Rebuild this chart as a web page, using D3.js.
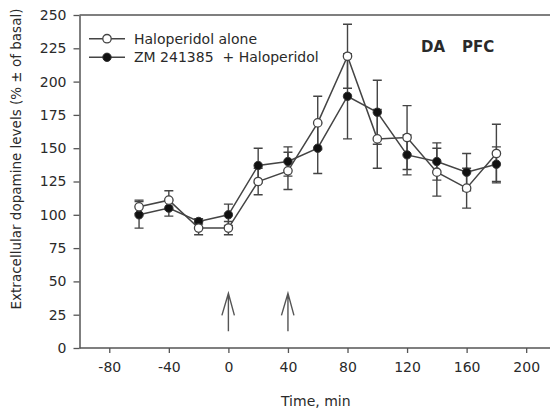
<!DOCTYPE html>
<html>
<head>
<meta charset="utf-8">
<script src="https://cdn.jsdelivr.net/npm/d3@7"></script>
<style>
  body { margin: 0; background: #fff; }
  text { font-family: "DejaVu Sans", Verdana, sans-serif; fill: #2a2a2a; }
</style>
</head>
<body>
<div id="chart"></div>
<script>
// data
var times = [-60, -40, -20, 0, 20, 40, 60, 80, 100, 120, 140, 160, 180];
var haloMean = [106, 111, 90, 90, 125, 133, 169, 219, 157, 158, 132, 120, 146];
var haloErr  = [5, 7, 5, 5, 10, 14, 20, 24, 22, 24, 18, 15, 22];
var zmMean   = [100, 105, 95, 100, 137, 140, 150, 189, 177, 145, 140, 132, 138];
var zmErr    = [10, 6, 2, 8, 13, 11, 19, 32, 24, 15, 14, 14, 13];
var xTicks = [-80, -40, 0, 40, 80, 120, 160, 200];
var yTicks = [0, 25, 50, 75, 100, 125, 150, 175, 200, 225, 250];
var arrowTimes = [0, 40];
var arrowFrom = 12.5, arrowTo = 41;
var seriesNames = ["Haloperidol alone", "ZM 241385  + Haloperidol"];

var W = 550, H = 412;
var svg = d3.select("#chart").append("svg")
  .attr("width", W).attr("height", H);

var x = d3.scaleLinear().domain([-100, 216]).range([79.5, 550]);
var y = d3.scaleLinear().domain([0, 250]).range([348, 15]);

var axisColor = "#555", lineColor = "#444";

// top frame line
svg.append("line")
  .attr("x1", x(-100)).attr("x2", W)
  .attr("y1", y(250)).attr("y2", y(250))
  .attr("stroke", axisColor).attr("stroke-width", 1.5);

// axes (plain hyphen minus, like the original)
var fmt = function(d) { return String(d); };
var gx = svg.append("g")
  .attr("transform", "translate(0," + y(0) + ")")
  .call(d3.axisBottom(x).tickValues(xTicks).tickFormat(fmt).tickSize(5).tickSizeOuter(0).tickPadding(9));
var gy = svg.append("g")
  .attr("transform", "translate(" + x(-100) + ",0)")
  .call(d3.axisLeft(y).tickValues(yTicks).tickFormat(fmt).tickSize(6).tickSizeOuter(0).tickPadding(7));

[gx, gy].forEach(function(g) {
  g.select(".domain").attr("stroke", axisColor).attr("stroke-width", 1.5);
  g.selectAll(".tick line").attr("stroke", axisColor).attr("stroke-width", 1.3);
  g.selectAll(".tick text")
    .style("font-family", '"DejaVu Sans", Verdana, sans-serif')
    .style("font-size", "14px").attr("fill", "#2a2a2a");
});
gx.select(".domain").attr("d", "M" + x(-100) + ",0H" + W);

// axis titles
svg.append("text")
  .attr("x", 281).attr("y", 406)
  .style("font-size", "14px")
  .text("Time, min");

svg.append("text")
  .attr("transform", "translate(21,159) rotate(-90)")
  .attr("text-anchor", "middle")
  .style("font-size", "13.5px")
  .text("Extracellular dopamine levels (% \u00b1 of basal)");

svg.append("text")
  .attr("x", 421).attr("y", 52)
  .style("font-size", "15px").style("font-weight", "bold")
  .text("DA");
svg.append("text")
  .attr("x", 462).attr("y", 52)
  .style("font-size", "15px").style("font-weight", "bold")
  .text("PFC");

// arrows
arrowTimes.forEach(function(t) {
  var ax = x(t), y0 = y(arrowFrom), y1 = y(arrowTo);
  svg.append("path")
    .attr("d", "M" + ax + "," + y0 + "V" + y1 +
               "M" + (ax - 6.5) + "," + (y1 + 22) + "L" + ax + "," + y1 + "L" + (ax + 6) + "," + (y1 + 22))
    .attr("fill", "none").attr("stroke", "#555").attr("stroke-width", 1.4);
});

function series(mean, err) {
  return times.map(function(t, i) { return {t: t, v: mean[i], e: err[i]}; });
}
var halo = series(haloMean, haloErr);
var zm = series(zmMean, zmErr);

var line = d3.line().x(function(d) { return x(d.t); }).y(function(d) { return y(d.v); });

function drawErrors(data) {
  var g = svg.append("g").attr("stroke", lineColor).attr("stroke-width", 1.4).attr("fill", "none");
  data.forEach(function(d) {
    var cx = x(d.t), top = y(d.v + d.e), bot = y(d.v - d.e);
    g.append("path")
      .attr("d", "M" + cx + "," + top + "V" + bot +
                 "M" + (cx - 4.5) + "," + top + "H" + (cx + 4.5) +
                 "M" + (cx - 4.5) + "," + bot + "H" + (cx + 4.5));
  });
}
drawErrors(zm);
drawErrors(halo);

[halo, zm].forEach(function(data) {
  svg.append("path").datum(data)
    .attr("d", line)
    .attr("fill", "none").attr("stroke", lineColor).attr("stroke-width", 1.5);
});

svg.append("g").selectAll("circle").data(zm).enter().append("circle")
  .attr("cx", function(d) { return x(d.t); })
  .attr("cy", function(d) { return y(d.v); })
  .attr("r", 4.2)
  .attr("fill", "#111").attr("stroke", "#333").attr("stroke-width", 1);

svg.append("g").selectAll("circle").data(halo).enter().append("circle")
  .attr("cx", function(d) { return x(d.t); })
  .attr("cy", function(d) { return y(d.v); })
  .attr("r", 4.2)
  .attr("fill", "#fff").attr("stroke", "#444").attr("stroke-width", 1.3);

// legend
var legendY = [38.7, 57.3];
seriesNames.forEach(function(name, i) {
  var ly = legendY[i];
  svg.append("line")
    .attr("x1", 89).attr("x2", 125).attr("y1", ly).attr("y2", ly)
    .attr("stroke", lineColor).attr("stroke-width", 1.5);
  svg.append("circle")
    .attr("cx", 107).attr("cy", ly).attr("r", 4.2)
    .attr("fill", i === 0 ? "#fff" : "#111")
    .attr("stroke", i === 0 ? "#444" : "#333").attr("stroke-width", i === 0 ? 1.3 : 1);
  svg.append("text")
    .attr("x", 134).attr("y", ly + 5)
    .style("font-size", "14px")
    .style("white-space", "pre")
    .text(name);
});
</script>
</body>
</html>
